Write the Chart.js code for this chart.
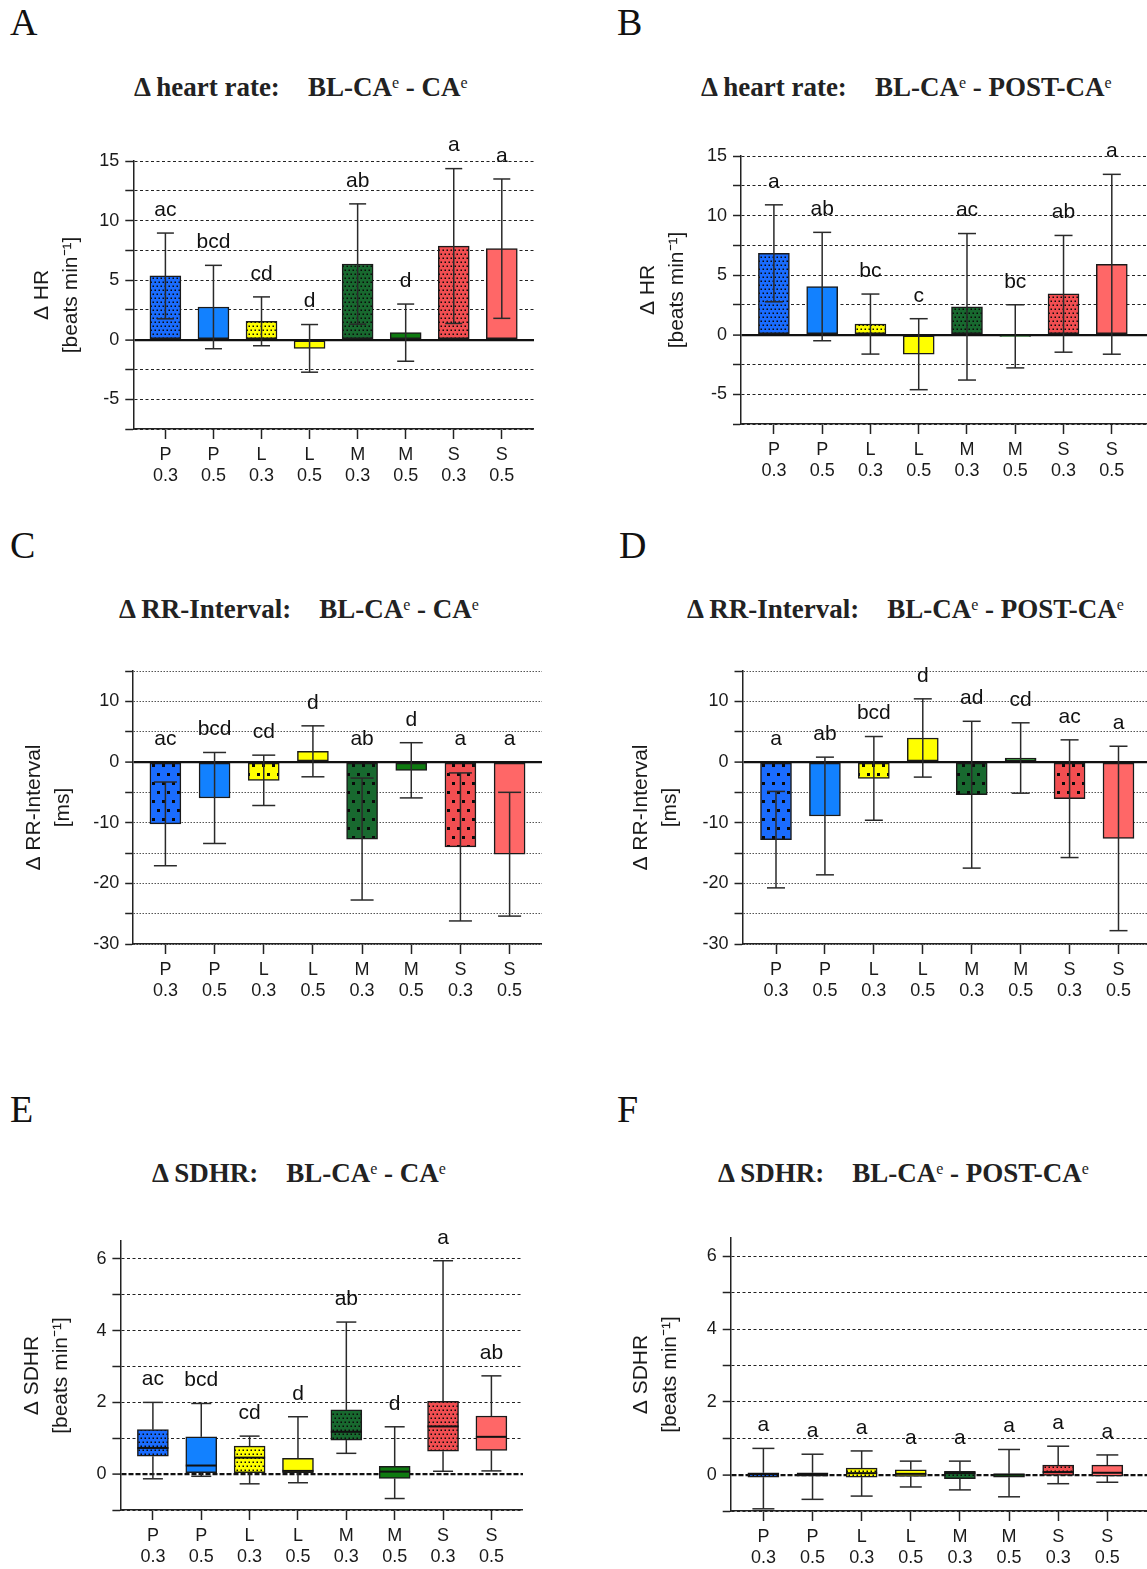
<!DOCTYPE html>
<html>
<head>
<meta charset="utf-8">
<script src="https://cdn.jsdelivr.net/npm/chart.js@4.4.1/dist/chart.umd.min.js"></script>
<style>
body { margin: 0; background: #fff; width: 1147px; height: 1569px; position: relative; overflow: hidden; }
.letter { position: absolute; font-family: "Liberation Serif", serif; font-size: 38px; line-height: 1; color: #111; }
.ttl { position: absolute; font-family: "Liberation Serif", serif; font-weight: bold; font-size: 27px; line-height: 1; color: #222; white-space: nowrap; }
.ttl .gap { margin-left: 28px; }
.ttl sup { font-size: 16px; font-weight: normal; vertical-align: baseline; position: relative; top: -8px; }
canvas { position: absolute; }
</style>
</head>
<body>

<div class="letter" style="left:10px;top:3px">A</div>
<div class="letter" style="left:617px;top:3px">B</div>
<div class="letter" style="left:10px;top:526px">C</div>
<div class="letter" style="left:619px;top:526px">D</div>
<div class="letter" style="left:10px;top:1090px">E</div>
<div class="letter" style="left:617px;top:1090px">F</div>

<div class="ttl" style="left:134px;top:74px">Δ heart rate:<span class="gap">BL-CA<sup>e</sup> - CA<sup>e</sup></span></div>
<div class="ttl" style="left:701px;top:74px">Δ heart rate:<span class="gap">BL-CA<sup>e</sup> - POST-CA<sup>e</sup></span></div>
<div class="ttl" style="left:119px;top:596px">Δ RR-Interval:<span class="gap">BL-CA<sup>e</sup> - CA<sup>e</sup></span></div>
<div class="ttl" style="left:687px;top:596px">Δ RR-Interval:<span class="gap">BL-CA<sup>e</sup> - POST-CA<sup>e</sup></span></div>
<div class="ttl" style="left:152px;top:1160px">Δ SDHR:<span class="gap">BL-CA<sup>e</sup> - CA<sup>e</sup></span></div>
<div class="ttl" style="left:718px;top:1160px">Δ SDHR:<span class="gap">BL-CA<sup>e</sup> - POST-CA<sup>e</sup></span></div>

<script>
const categories = [['P', '0.3'], ['P', '0.5'], ['L', '0.3'], ['L', '0.5'], ['M', '0.3'], ['M', '0.5'], ['S', '0.3'], ['S', '0.5']];

// Δ heart rate, BL-CA - CA (mean, SD)
const hrCaMean = [5.35, 2.74, 1.54, -0.73, 6.35, 0.59, 7.86, 7.64];
const hrCaSd = [3.6, 3.5, 2.05, 2.0, 5.05, 2.4, 6.5, 5.85];
const hrCaLetters = ['ac', 'bcd', 'cd', 'd', 'ab', 'd', 'a', 'a'];

// Δ heart rate, BL-CA - POST-CA
const hrPostMean = [6.83, 4.04, 0.89, -1.64, 2.34, -0.14, 3.43, 5.91];
const hrPostSd = [4.07, 4.55, 2.52, 2.98, 6.15, 2.65, 4.9, 7.55];
const hrPostLetters = ['a', 'ab', 'bc', 'c', 'ac', 'bc', 'ab', 'a'];

// Δ RR-interval, BL-CA - CA
const rrCaMean = [-10.2, -5.93, -3.02, 1.76, -12.7, -1.37, -14.0, -15.2];
const rrCaSd = [6.9, 7.5, 4.15, 4.2, 10.05, 4.55, 12.2, 10.2];
const rrCaLetters = ['ac', 'bcd', 'cd', 'd', 'ab', 'd', 'a', 'a'];

// Δ RR-interval, BL-CA - POST-CA
const rrPostMean = [-12.8, -8.9, -2.7, 3.96, -5.39, 0.66, -6.05, -12.6];
const rrPostSd = [7.95, 9.7, 6.9, 6.45, 12.1, 5.8, 9.7, 15.2];
const rrPostLetters = ['a', 'ab', 'bcd', 'd', 'ad', 'cd', 'ac', 'a'];

// Δ SDHR, BL-CA - CA (box plots)
const sdCaMin = [-0.13, -0.06, -0.27, -0.24, 0.58, -0.68, 0.08, 0.09];
const sdCaQ1 = [0.5, 0.04, 0.04, 0.04, 0.95, -0.12, 0.64, 0.66];
const sdCaMed = [0.73, 0.24, 0.46, 0.09, 1.18, 0.07, 1.33, 1.04];
const sdCaQ3 = [1.24, 1.04, 0.78, 0.44, 1.79, 0.22, 2.03, 1.62];
const sdCaMax = [2.0, 1.97, 1.06, 1.6, 4.24, 1.32, 5.95, 2.74];
const sdCaLetters = ['ac', 'bcd', 'cd', 'd', 'ab', 'd', 'a', 'ab'];

// Δ SDHR, BL-CA - POST-CA
const sdPostMin = [-0.94, -0.68, -0.59, -0.34, -0.42, -0.61, -0.25, -0.21];
const sdPostQ1 = [-0.07, -0.04, -0.07, -0.05, -0.11, -0.07, -0.02, -0.04];
const sdPostMed = [0.01, 0.01, 0.04, 0.02, 0.04, 0.0, 0.07, 0.05];
const sdPostQ3 = [0.05, 0.05, 0.18, 0.13, 0.09, 0.02, 0.26, 0.26];
const sdPostMax = [0.72, 0.56, 0.65, 0.37, 0.37, 0.69, 0.78, 0.54];
const sdPostLetters = ['a', 'a', 'a', 'a', 'a', 'a', 'a', 'a'];

const hrTicks = [-7.5, -5, -2.5, 0, 2.5, 5, 7.5, 10, 12.5, 15];
const hrTickLabels = ['', '-5', '', '0', '', '5', '', '10', '', '15'];
const rrTicks = [-30, -25, -20, -15, -10, -5, 0, 5, 10, 15];
const rrTickLabels = ['-30', '', '-20', '', '-10', '', '0', '', '10', ''];
const sdTicks = [-1, 0, 1, 2, 3, 4, 5, 6];
const sdTickLabels = ['', '0', '', '2', '', '4', '', '6'];

const barColors = ['#1a6cff', '#1281ff', '#ffff00', '#ffff00', '#18692f', '#0e7a10', '#f24e51', '#ff6767'];
const dotted = [true, false, true, false, true, false, true, false];

Chart.defaults.font.family = '"Liberation Sans", Arial, sans-serif';
Chart.defaults.color = '#1a1a1a';

const panels = [
  { kind: 'bar', mean: hrCaMean, sd: hrCaSd, letters: hrCaLetters, ticks: hrTicks, tickLabels: hrTickLabels, ymax: 15,
    yTitle: ['Δ HR', '[beats min⁻¹]'], dots: 'fine', zeroDash: [], gridDash: [3, 2.5], gridColor: '#222',
    pos: { x0: 0, axisX: 133.3, first: 165.4, last: 501.8, right: 534, top: 160.5, bottom: 428, titleX: 42, cap: 17 } },
  { kind: 'bar', mean: hrPostMean, sd: hrPostSd, letters: hrPostLetters, ticks: hrTicks, tickLabels: hrTickLabels, ymax: 15,
    yTitle: ['Δ HR', '[beats min⁻¹]'], dots: 'fine', zeroDash: [], gridDash: [3, 2.5], gridColor: '#222',
    pos: { x0: 600, axisX: 741, first: 773.9, last: 1111.8, right: 1147, top: 156, bottom: 424, titleX: 648, cap: 18 } },
  { kind: 'bar', mean: rrCaMean, sd: rrCaSd, letters: rrCaLetters, ticks: rrTicks, tickLabels: rrTickLabels, ymax: 15,
    yTitle: ['Δ RR-Interval', '[ms]'], dots: 'coarse', zeroDash: [], gridDash: [1.5, 1.5], gridColor: '#555',
    pos: { x0: 0, axisX: 133.2, first: 165.4, last: 509.6, right: 542, top: 671, bottom: 944, titleX: 34, cap: 23 } },
  { kind: 'bar', mean: rrPostMean, sd: rrPostSd, letters: rrPostLetters, ticks: rrTicks, tickLabels: rrTickLabels, ymax: 15,
    yTitle: ['Δ RR-Interval', '[ms]'], dots: 'coarse', zeroDash: [], gridDash: [1.5, 1.5], gridColor: '#555',
    pos: { x0: 600, axisX: 742.5, first: 776, last: 1118.5, right: 1147, top: 671, bottom: 944, titleX: 641, cap: 18 } },
  { kind: 'box', min: sdCaMin, q1: sdCaQ1, med: sdCaMed, q3: sdCaQ3, max: sdCaMax, letters: sdCaLetters, ticks: sdTicks, tickLabels: sdTickLabels, ymax: 6.5,
    yTitle: ['Δ SDHR', '[beats min⁻¹]'], dots: 'fine', zeroDash: [5, 2], gridDash: [3, 2.5], gridColor: '#222',
    pos: { x0: 0, axisX: 120.4, first: 152.9, last: 491.4, right: 523, top: 1240.7, bottom: 1510, titleX: 32, cap: 20 } },
  { kind: 'box', min: sdPostMin, q1: sdPostQ1, med: sdPostMed, q3: sdPostQ3, max: sdPostMax, letters: sdPostLetters, ticks: sdTicks, tickLabels: sdTickLabels, ymax: 6.5,
    yTitle: ['Δ SDHR', '[beats min⁻¹]'], dots: 'fine', zeroDash: [5, 2], gridDash: [3, 2.5], gridColor: '#222',
    pos: { x0: 600, axisX: 730.7, first: 763.4, last: 1107.3, right: 1147, top: 1237.5, bottom: 1510, titleX: 641, cap: 22 } }
];

function dotPattern(ctx, color, kind) {
  const t = document.createElement('canvas');
  const fine = kind === 'fine';
  t.width = fine ? 4 : 10;
  t.height = fine ? 8 : 18;
  const g = t.getContext('2d');
  g.fillStyle = color;
  g.fillRect(0, 0, t.width, t.height);
  g.fillStyle = '#0a0a0a';
  if (fine) {
    g.fillRect(0.5, 0.5, 1.5, 1.5);
    g.fillRect(2.5, 4.5, 1.5, 1.5);
  } else {
    g.fillRect(2, 3, 3, 3);
    g.fillRect(7, 12, 3, 3);
  }
  return ctx.createPattern(t, 'repeat');
}

const TOP_PAD = 36, X_AXIS_H = 70;

panels.forEach(p => {
  const s = p.pos;
  const cv = document.createElement('canvas');
  cv.width = Math.round(s.right - s.x0);
  cv.height = Math.round(TOP_PAD + (s.bottom - s.top) + X_AXIS_H);
  cv.style.left = s.x0 + 'px';
  cv.style.top = (s.top - TOP_PAD) + 'px';
  document.body.appendChild(cv);
  const ctx = cv.getContext('2d');

  const step = (s.last - s.first) / 7;
  const xmin = -(s.first - s.axisX) / step;
  const xmax = 7 + (s.right - s.last) / step;

  const fills = barColors.map((c, i) => dotted[i] ? dotPattern(ctx, c, p.dots) : c);
  const data = p.kind === 'bar'
    ? p.mean.map((v, i) => ({ x: i, y: v }))
    : p.q1.map((v, i) => ({ x: i, y: [v, p.q3[i]] }));

  const lh = 1.4, tfs = 21;

  const marks = {
    id: 'marks',
    afterDatasetsDraw(chart) {
      const c = chart.ctx, ys = chart.scales.y;
      const bars = chart.getDatasetMeta(0).data;
      const seg = (x1, y1, x2, y2) => { c.beginPath(); c.moveTo(x1, y1); c.lineTo(x2, y2); c.stroke(); };
      c.save();
      c.strokeStyle = '#2a2a2a';
      c.lineWidth = 1.5;
      bars.forEach((bar, i) => {
        const x = bar.x, hw = s.cap / 2;
        let top;
        if (p.kind === 'bar') {
          const hi = p.mean[i] + p.sd[i], lo = p.mean[i] - p.sd[i];
          const yh = ys.getPixelForValue(hi), yl = ys.getPixelForValue(lo);
          seg(x, yh, x, yl);
          seg(x - hw, yh, x + hw, yh);
          seg(x - hw, yl, x + hw, yl);
          top = Math.max(hi, 0);
        } else {
          const yMax = ys.getPixelForValue(p.max[i]), yMin = ys.getPixelForValue(p.min[i]);
          const yQ1 = ys.getPixelForValue(p.q1[i]), yQ3 = ys.getPixelForValue(p.q3[i]);
          const yMed = ys.getPixelForValue(p.med[i]);
          seg(x, yMax, x, yQ3);
          seg(x, yQ1, x, yMin);
          seg(x - hw, yMax, x + hw, yMax);
          seg(x - hw, yMin, x + hw, yMin);
          c.save();
          c.lineWidth = 2;
          c.strokeStyle = '#111';
          seg(x - bar.width / 2, yMed, x + bar.width / 2, yMed);
          c.restore();
          top = p.max[i];
        }
        c.fillStyle = '#111';
        c.font = '21px "Liberation Sans", Arial, sans-serif';
        c.textAlign = 'center';
        c.textBaseline = 'middle';
        c.fillText(p.letters[i], x, ys.getPixelForValue(top) - 23);
      });
      c.restore();
    }
  };

  new Chart(ctx, {
    type: 'bar',
    data: {
      datasets: [{
        data: data,
        backgroundColor: fills,
        borderColor: '#1a1a1a',
        borderWidth: 1.5,
        borderSkipped: false,
        barThickness: 31
      }]
    },
    options: {
      responsive: false,
      animation: false,
      layout: { padding: { top: TOP_PAD, left: 0, right: 0, bottom: 0 } },
      plugins: { legend: { display: false }, tooltip: { enabled: false } },
      scales: {
        x: {
          type: 'linear',
          min: xmin,
          max: xmax,
          offset: false,
          afterBuildTicks: sc => { sc.ticks = categories.map((c, i) => ({ value: i })); },
          afterFit: sc => { sc.height = X_AXIS_H; },
          ticks: {
            autoSkip: false,
            maxRotation: 0,
            padding: 5,
            font: { size: 18 },
            color: '#1a1a1a',
            callback: (v, i) => categories[i]
          },
          grid: { offset: false, drawOnChartArea: false, drawTicks: true, tickLength: 10, tickColor: '#222', tickWidth: 1.5 },
          border: { display: true, color: '#222', width: 1.5 }
        },
        y: {
          min: p.ticks[0],
          max: p.ymax,
          afterBuildTicks: sc => { sc.ticks = p.ticks.map(v => ({ value: v })); },
          afterFit: sc => { sc.width = s.axisX - s.x0; },
          ticks: {
            autoSkip: false,
            padding: 6,
            font: { size: 18 },
            color: '#1a1a1a',
            callback: (v, i) => p.tickLabels[i]
          },
          grid: {
            drawTicks: true,
            tickLength: 8,
            tickColor: '#222',
            tickWidth: 1.5,
            color: c => (c.tick && c.tick.value === 0) ? '#111' : p.gridColor,
            lineWidth: c => (c.tick && c.tick.value === 0) ? 2.2 : 1
          },
          border: {
            display: true,
            color: '#222',
            width: 1.5,
            dash: c => (c.tick && c.tick.value === 0) ? p.zeroDash : p.gridDash
          },
          title: {
            display: true,
            text: p.yTitle,
            color: '#1a1a1a',
            font: { size: tfs, lineHeight: lh },
            padding: { top: s.titleX - s.x0 - tfs * lh / 2, bottom: 0 }
          }
        }
      }
    },
    plugins: [marks]
  });
});
</script>
</body>
</html>
